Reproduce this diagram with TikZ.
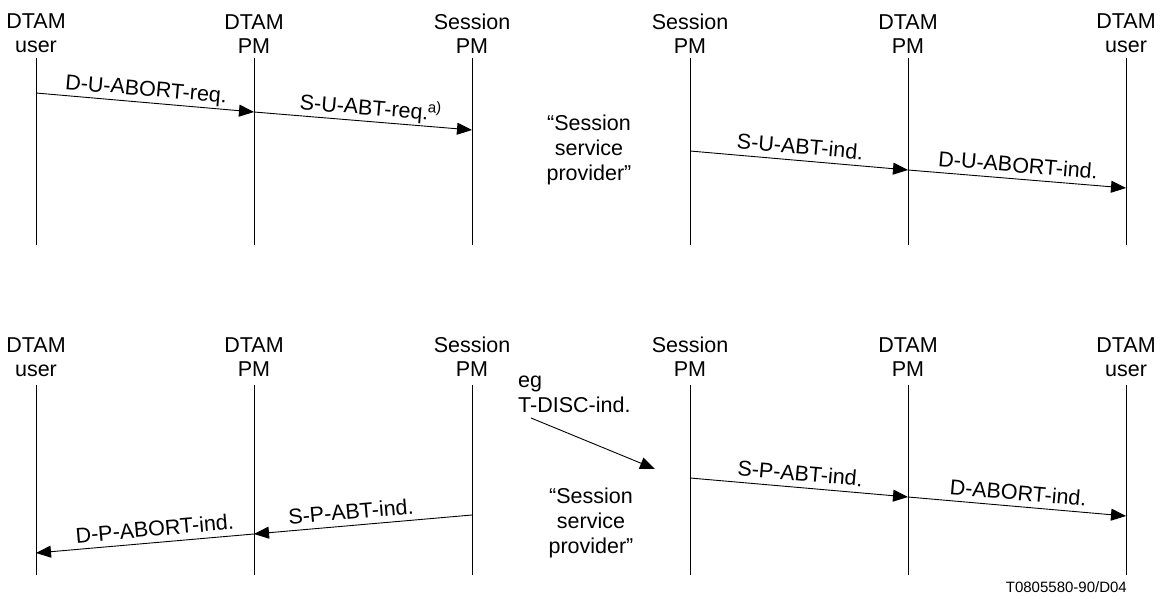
\documentclass[tikz,border=0pt]{standalone}
\usepackage{fontspec}
\setmainfont{Liberation Sans}
\usetikzlibrary{arrows.meta,positioning}
\tikzset{
  head/.style = {align=center, inner sep=0pt, font=\fontsize{21.5}{24}\selectfont},
  prov/.style = {align=center, inner sep=0pt, font=\fontsize{21.5}{25}\selectfont},
  life/.style = {line width=0.9pt},
  msg/.style  = {line width=0.9pt, -{Triangle[length=15pt,width=12pt]}},
  lbl/.style  = {sloped, above=6pt, inner sep=0pt, text depth=0pt,
                 font=\fontsize{21.5}{24}\selectfont},
}

\begin{document}
\begin{tikzpicture}[x=1pt,y=-1pt]
  \useasboundingbox (0,0) rectangle (1165,599);

  % lifelines of both panels
  \foreach \p/\hy/\ly/\lb in {t/53.3/58/245, b/376.7/385/575}{
    \foreach \x/\n/\a/\b in {36/du/DTAM/user, 254/dp/DTAM/PM, 472/sp/Session/PM,
                             690/sq/Session/PM, 908/dq/DTAM/PM, 1126/dv/DTAM/user}{
      \node[head, anchor=south] (\p\n) at (\x,\hy) {\a\\\b};
      \coordinate (\p\n top) at (\x,\ly);
      \coordinate (\p\n bot) at (\x,\lb);
      \draw[life] (\p\n top) -- (\p\n bot);
    }
  }

  % message end points on the lifelines
  \foreach \n/\x/\y in {p1/36/93, p2/254/112, p3/472/130, p4/690/151, p5/908/170, p6/1126/188,
                        p7/472/515, p8/254/534, p9/36/553, p10/690/478, p11/908/497, p12/1126/516}
    \coordinate (\n) at (\x,\y);

  \draw[msg] (p1) -- node[lbl] (l1) {D-U-ABORT-req.} (p2);
  \draw[msg] (p2) -- node[lbl, pos=0.53] (l2) {S-U-ABT-req.\kern-1pt\textsuperscript{a)}} (p3);
  \draw[msg] (p4) -- node[lbl] (l3) {S-U-ABT-ind.} (p5);
  \draw[msg] (p5) -- node[lbl] (l4) {D-U-ABORT-ind.} (p6);
  \draw[msg] (p7) -- node[lbl, pos=0.55] (l5) {S-P-ABT-ind.} (p8);
  \draw[msg] (p8) -- node[lbl, pos=0.45] (l6) {D-P-ABORT-ind.} (p9);
  \draw[msg] (p10) -- node[lbl] (l7) {S-P-ABT-ind.} (p11);
  \draw[msg] (p11) -- node[lbl] (l8) {D-ABORT-ind.} (p12);

  \node[prov, anchor=north] (ssp1) at (589,115) {“Session\\service\\provider”};
  \node[prov, anchor=north] (ssp2) at (591,488) {“Session\\service\\provider”};

  \node[prov, align=left, anchor=south west] (tdisc) at (518,413.3) {eg\\T-DISC-ind.};
  \coordinate (disc) at (531,418);
  \coordinate (discend) at (655,469);
  \draw[msg] (disc) -- (discend);

  \node[anchor=east, inner sep=0pt, font=\fontsize{15}{18}\selectfont] (ref) at (1127,587) {T0805580-90/D04};
\end{tikzpicture}
\end{document}
